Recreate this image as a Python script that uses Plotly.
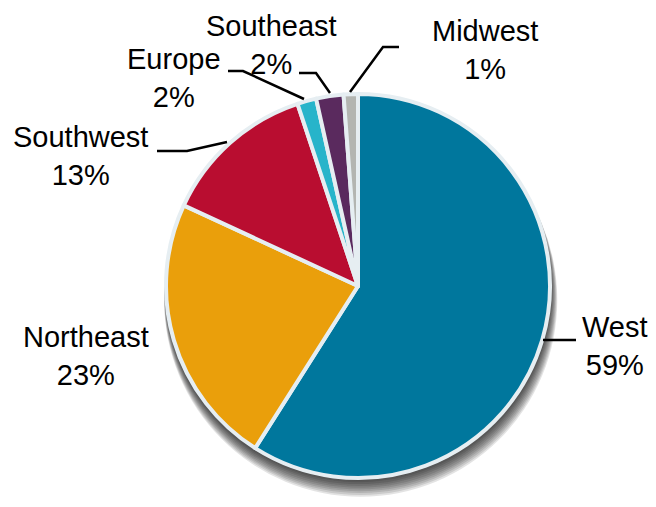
import plotly.graph_objects as go

# ---- data ----
regions = ["West", "Northeast", "Southwest", "Europe", "Southeast", "Midwest"]
shares = [59.0, 22.9, 13.0, 1.6, 2.3, 1.2]
colors = ["#00779D", "#EA9F0B", "#B90D30", "#27B4CA", "#5A2A5E", "#B3B5B1"]

W, H = 656, 507
CX, CY, R = 358, 286, 192


def px(x):
    return x / W


def py(y):
    return 1 - y / H


def dom(cx, cy, r):
    return dict(x=[px(cx - r), px(cx + r)], y=[py(cy + r), py(cy - r)])


fig = go.Figure()

# soft drop shadow (layered translucent discs)
for i in range(10):
    dy = 1.5 + i * 1.4
    rr = R + 1 + i * 0.4
    fig.add_trace(go.Pie(
        values=[1], labels=["shadow"], domain=dom(CX + 0.3 * i, CY + dy, rr),
        marker=dict(colors=["rgba(0,0,0,0.11)"], line=dict(width=0)),
        textinfo="none", hoverinfo="skip", showlegend=False, sort=False,
    ))

fig.add_trace(go.Pie(
    labels=regions, values=shares, domain=dom(CX, CY, R),
    sort=False, direction="clockwise", rotation=0,
    marker=dict(colors=colors, line=dict(color="#E6EEF2", width=4)),
    textinfo="none", hoverinfo="label+percent", showlegend=False,
))

total = sum(shares)
pct = {r: round(v / total * 100) for r, v in zip(regions, shares)}

# label positions (pixel centers) and leader lines
label_pos = {
    "West": (615, 346),
    "Northeast": (86, 356),
    "Southwest": (80, 156),
    "Europe": (174, 78),
    "Southeast": (271, 45),
    "Midwest": (485, 50),
}
leaders = {
    "West": [(543, 340), (576, 340)],
    "Southwest": [(227, 142), (187, 151), (157, 151)],
    "Europe": [(304, 99), (243, 71), (228, 71)],
    "Southeast": [(330, 93), (316, 73), (299, 73)],
    "Midwest": [(350, 92), (383, 47), (399, 47)],
}

annotations = []
for r in regions:
    x, y = label_pos[r]
    annotations.append(dict(
        x=px(x), y=py(y), xref="paper", yref="paper",
        text=f"{r}<br>{pct[r]}%", showarrow=False,
        xanchor="center", yanchor="middle", align="center",
        font=dict(family="Liberation Sans, Arial, sans-serif", size=29, color="#000000"),
    ))

shapes = []
for r, pts in leaders.items():
    path = "M " + " L ".join(f"{px(a):.5f},{py(b):.5f}" for a, b in pts)
    shapes.append(dict(type="path", xref="paper", yref="paper", path=path,
                       line=dict(color="#000000", width=2.5)))

fig.update_layout(
    width=W, height=H, margin=dict(l=0, r=0, t=0, b=0),
    paper_bgcolor="white", plot_bgcolor="white",
    annotations=annotations, shapes=shapes, showlegend=False,
)

fig.write_html("out.html", config={"displayModeBar": False},
               post_script="document.body.style.margin='0';")
